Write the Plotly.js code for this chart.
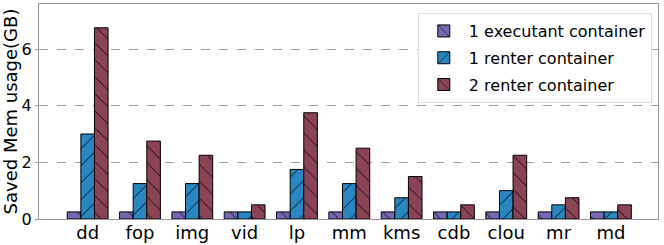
<!DOCTYPE html>
<html><head><meta charset="utf-8">
<script src="https://cdn.plot.ly/plotly-3.0.1.min.js"></script>
<style>html,body{margin:0;padding:0;background:#fff}</style>
</head><body><div id="chart" style="width:664px;height:245px"></div>
<script>
const categories = ["dd","fop","img","vid","lp","mm","kms","cdb","clou","mr","md"];
const executant1 = [0.25,0.25,0.25,0.25,0.25,0.25,0.25,0.25,0.25,0.25,0.25];
const renter1 = [3.0,1.25,1.25,0.25,1.75,1.25,0.75,0.25,1.0,0.5,0.25];
const renter2 = [6.75,2.75,2.25,0.5,3.75,2.5,1.5,0.5,2.25,0.75,0.5];
const seriesNames = ["1 executant container","1 renter container","2 renter container"];
const yTicks = [0,2,4,6];

const colors = ["#7669b3","#2a86c0","#8b4356"];
const shapes = ["\\","/","\\"];
const data = [executant1, renter1, renter2].map((vals,i)=>({
  type:"bar", x:categories, y:vals, name:seriesNames[i], legendgroup:"g"+i,
  marker:{color:colors[i], line:{color:"#000", width:1},
    pattern:{shape:shapes[i], fgcolor:"#000", bgcolor:colors[i], size:12, solidity:0.07}}
}));
const layout = {
  width:664, height:245,
  margin:{l:39,r:6,t:4,b:26},
  barmode:"group", bargap:0.22, bargroupgap:0,
  font:{family:"DejaVu Sans", color:"#000"},
  paper_bgcolor:"#fff", plot_bgcolor:"#fff",
  xaxis:{range:[-0.93,10.9], tickfont:{size:18}, showline:true, mirror:true, linecolor:"#999", linewidth:1, ticks:"", showgrid:false, ticklabelstandoff:-3},
  yaxis:{range:[0,7.59], tickvals:yTicks, ticktext:yTicks.map(String), tickfont:{size:16},
    showline:true, mirror:true, linecolor:"#999", linewidth:1, ticks:"outside", ticklen:3, tickcolor:"#999",
    showgrid:true, gridcolor:"#888", griddash:"dash", gridwidth:0.8, zeroline:false,
    title:{text:"Saved Mem usage(GB)", font:{size:18}, standoff:4}},
  legend:{x:0.99, xanchor:"right", y:0.958, yanchor:"top", bgcolor:"#fff", bordercolor:"#ddd", borderwidth:1,
    font:{size:16}, itemwidth:40, tracegroupgap:3},
  showlegend:true
};
Plotly.newPlot("chart", data, layout, {displayModeBar:false, staticPlot:true});
</script></body></html>
